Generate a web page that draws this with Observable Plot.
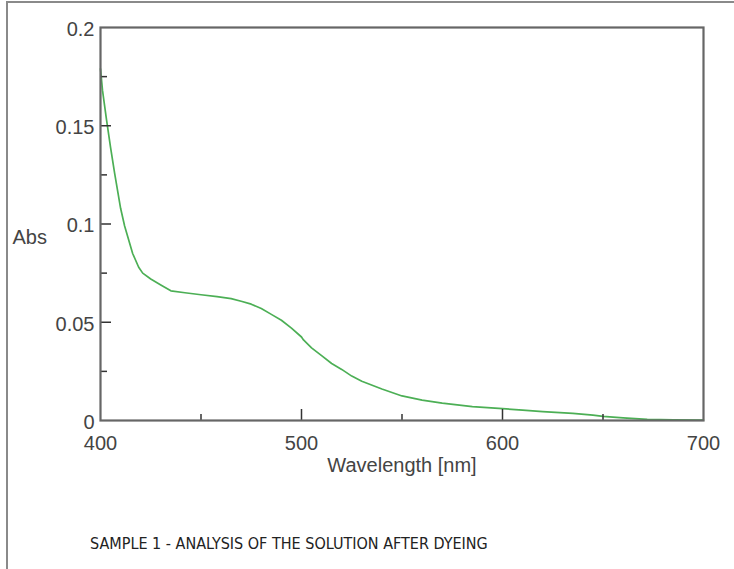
<!DOCTYPE html>
<html>
<head>
<meta charset="utf-8">
<script src="https://cdn.jsdelivr.net/npm/d3@7"></script>
<script src="https://cdn.jsdelivr.net/npm/@observablehq/plot@0.6"></script>
<style>
  html, body { margin: 0; padding: 0; background: #fff; }
  #wrap { position: relative; width: 734px; height: 569px; overflow: hidden; }
  #border { position: absolute; left: 6px; top: 1px; right: -4px; bottom: -4px;
    border-top: 2px solid #8a8a8a; border-left: 2px solid #8a8a8a; }
  #chart { position: absolute; left: 0; top: 0; }
  #chart svg text { font-size: 20px; }
  #caption { position: absolute; left: 90px; top: 534px; white-space: nowrap;
    font-family: "Liberation Sans Narrow", "DejaVu Sans Condensed", "Liberation Sans", sans-serif;
    font-size: 16px; color: #222; }
</style>
</head>
<body>
<div id="wrap">
  <div id="border"></div>
  <div id="chart"></div>
  <div id="caption">SAMPLE 1 - ANALYSIS OF THE SOLUTION AFTER DYEING</div>
</div>
<script>
// Data
const wavelength = [400, 401, 403, 405, 407, 410, 412, 416, 419, 421, 425, 430, 435, 442, 450, 458, 465, 470, 475, 480, 485, 490, 495, 500, 501, 505, 510, 515, 520, 525, 530, 540, 550, 560, 570, 585, 600, 610, 620, 635, 645, 650, 660, 672, 685, 700];
const absorbance = [0.179, 0.168, 0.153, 0.139, 0.126, 0.108, 0.099, 0.085, 0.078, 0.075, 0.072, 0.069, 0.066, 0.065, 0.064, 0.063, 0.062, 0.0607, 0.0592, 0.057, 0.054, 0.051, 0.047, 0.0425, 0.041, 0.037, 0.033, 0.029, 0.026, 0.0226, 0.020, 0.016, 0.0125, 0.0104, 0.0088, 0.0071, 0.006, 0.0053, 0.0045, 0.0036, 0.0027, 0.0021, 0.0013, 0.0006, 0.0003, 0.0002];

const yTickLabels = [0, 0.05, 0.1, 0.15, 0.2];
const yMajorTicks = [0.05, 0.1, 0.15];
const yMinorTicks = [0.025, 0.075, 0.125, 0.175];
const xTickLabels = [400, 500, 600, 700];
const xMajorTicks = [500, 600];
const xMinorTicks = [450, 550, 650];

const xLabel = "Wavelength [nm]";
const yLabel = "Abs";

const data = wavelength.map((w, i) => ({w, a: absorbance[i]}));

const W = 734, H = 490;
const mL = 100, mR = 31, mT = 27, mB = 70;
const pw = W - mL - mR, ph = H - mT - mB;
const tickColor = "#333";
const font = "Liberation Sans, Arial, sans-serif";

const chart = Plot.plot({
  width: W, height: H,
  marginLeft: mL, marginRight: mR, marginTop: mT, marginBottom: mB,
  style: {fontFamily: font, fontSize: "20px", background: "transparent", overflow: "visible"},
  x: {domain: [400, 700]},
  y: {domain: [0, 0.2]},
  marks: [
    Plot.line(data, {x: "w", y: "a", stroke: "#4caf55", strokeWidth: 1.7}),
    Plot.tickY(yMajorTicks, {y: d => d, stroke: tickColor, strokeWidth: 1.5, insetRight: pw - 11}),
    Plot.tickY(yMinorTicks, {y: d => d, stroke: tickColor, strokeWidth: 1.5, insetRight: pw - 7}),
    Plot.tickX(xMajorTicks, {x: d => d, stroke: tickColor, strokeWidth: 1.5, insetTop: ph - 11}),
    Plot.tickX(xMinorTicks, {x: d => d, stroke: tickColor, strokeWidth: 1.5, insetTop: ph - 6}),
    Plot.frame({stroke: "#666", strokeWidth: 2.2}),
    Plot.axisY(yTickLabels, {tickSize: 0, tickPadding: 6, dy: 2, fontSize: 20, fill: "#444", tickFormat: d => String(d), label: null}),
    Plot.axisX(xTickLabels, {tickSize: 0, tickPadding: 15, fontSize: 20, fill: "#444", tickFormat: d => String(d), label: null}),
    Plot.text([xLabel], {frameAnchor: "bottom", dy: 51, fontSize: 20, fill: "#444", text: d => d}),
    Plot.text([yLabel], {frameAnchor: "left", dx: -88, dy: 14, textAnchor: "start", fontSize: 20, fill: "#444", text: d => d})
  ]
});
document.getElementById("chart").appendChild(chart);
</script>
</body>
</html>
